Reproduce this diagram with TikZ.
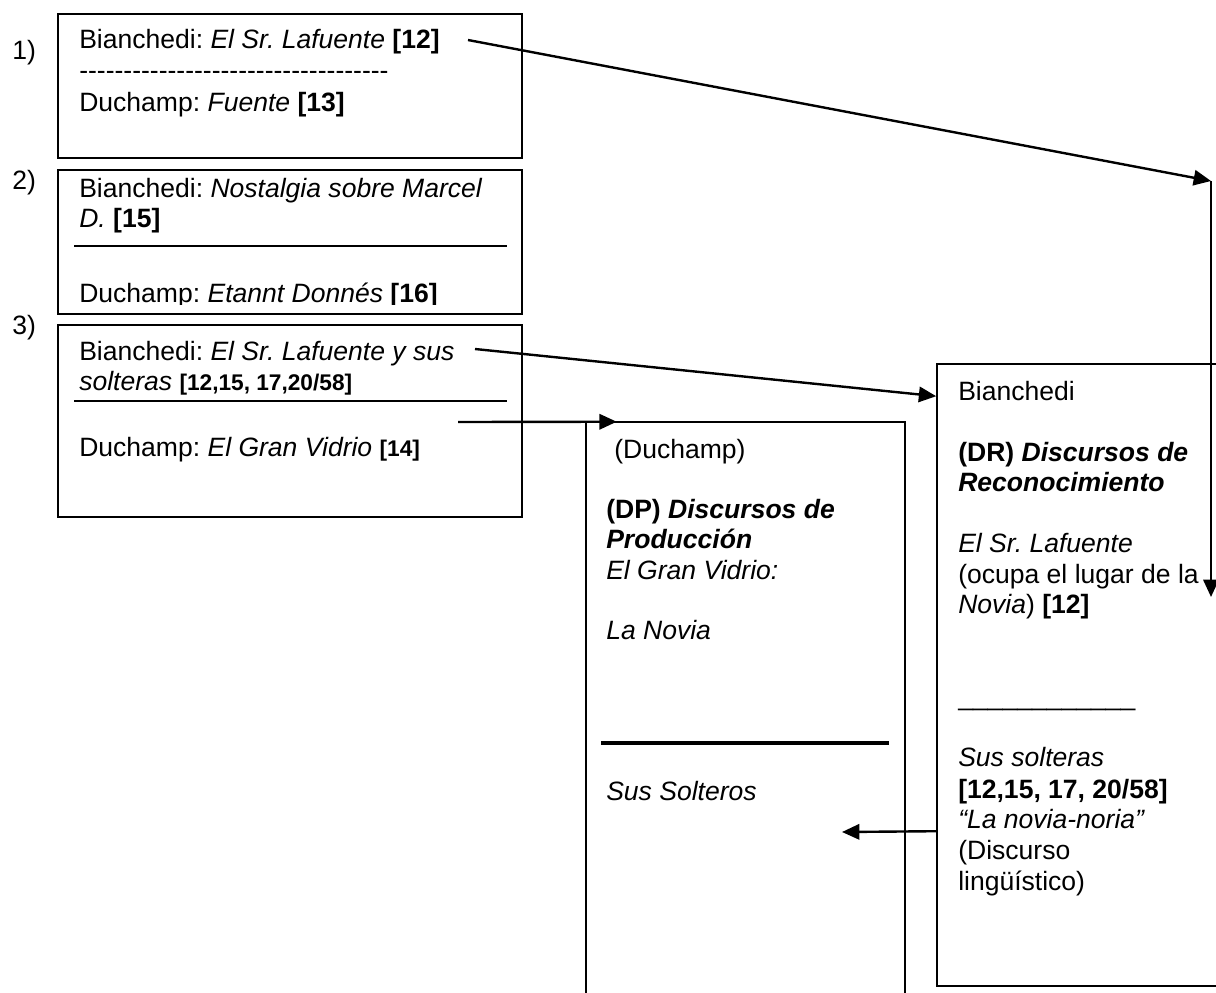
\documentclass[tikz,border=0pt]{standalone}
\usepackage{fontspec}
\setmainfont{Liberation Sans}
\usetikzlibrary{arrows.meta,fit}
\frenchspacing
\newcommand\fsn{\fontsize{19.9}{24}\selectfont}
\newcommand\fss{\fontsize{17}{20}\selectfont}
\tikzset{
  txt/.style={anchor=base west, inner sep=0pt, font=\fsn},
  boxframe/.style={draw, line width=1.2pt, inner sep=0pt},
  plainframe/.style={inner sep=0pt},
  arr/.style={line width=1.8pt, -{Triangle[length=13pt,width=11.5pt]}},
  rule/.style={line width=1pt},
  thickrule/.style={line width=3pt}
}
\begin{document}
\begin{tikzpicture}[x=0.75pt,y=-0.75pt]
\useasboundingbox (0,0) rectangle (1216,992);

% numbering
\node[txt] (n1) at (12,59) {1)};
\node[txt] (n2) at (12,189) {2)};
\node[txt] (n3) at (12,334) {3)};

% box 1
\node[boxframe, fit={(58,14) (522,158)}] (b1) {};
\node[txt] (t1a) at (79,48) {Bianchedi: \textit{El Sr. Lafuente} \textbf{[12]}};
\node[txt] (t1b) at (79,79) {-{}-{}-{}-{}-{}-{}-{}-{}-{}-{}-{}-{}-{}-{}-{}-{}-{}-{}-{}-{}-{}-{}-{}-{}-{}-{}-{}-{}-{}-{}-{}-{}-{}-{}-{}};
\node[txt] (t1c) at (79,111) {Duchamp: \textit{Fuente} \textbf{[13]}};

% box 2
\node[boxframe, fit={(58,170) (522,314)}] (b2) {};
\node[txt] (t2a) at (79,197) {Bianchedi: \textit{Nostalgia sobre Marcel}};
\node[txt] (t2b) at (79,227) {\textit{D.} \textbf{[15]}};
\draw[rule] (74,246) -- (507,246);
\begin{scope}
\clip (60,280) rectangle (520,304);
\node[txt] (t2c) at (79,302) {Duchamp: \textit{Etannt Donnés} \textbf{[16]}};
\end{scope}

% box 3
\node[boxframe, fit={(58,325) (522,517)}] (b3) {};
\node[txt] (t3a) at (79,360) {Bianchedi: \textit{El Sr. Lafuente y sus}};
\node[txt] (t3b) at (79,390) {\textit{solteras} {\fss\bfseries [12,15, 17,20/58]}};
\draw[rule] (74,401) -- (507,401);
\node[txt] (t3c) at (79,456) {Duchamp: \textit{El Gran Vidrio} {\fss\bfseries [14]}};

% DP box (open at bottom)
\node[plainframe, fit={(586,422) (905,1000)}] (dp) {};
\draw[line width=1.2pt] (dp.south west) |- (dp.north east) -- (dp.south east);
\node[txt] (d1) at (614,458) {(Duchamp)};
\node[txt] (d2) at (606,518) {\textbf{(DP) \textit{Discursos de}}};
\node[txt] (d3) at (606,548) {\textbf{\textit{Producción}}};
\node[txt] (d4) at (606,579) {\textit{El Gran Vidrio:}};
\node[txt] (d5) at (606,639) {\textit{La Novia}};
\draw[thickrule] (601,743) -- (889,743);
\node[txt] (d6) at (606,800) {\textit{Sus Solteros}};

% DR box
\node[boxframe, fit={(937,364) (1240,986)}] (dr) {};
\node[txt] (r1) at (958,400) {Bianchedi};
\node[txt] (r2) at (958,461) {\textbf{(DR) \textit{Discursos de}}};
\node[txt] (r3) at (958,491) {\textbf{\textit{Reconocimiento}}};
\node[txt] (r4) at (958,552) {\textit{El Sr. Lafuente}};
\node[txt] (r5) at (958,583) {(ocupa el lugar de la};
\node[txt] (r6) at (958,613) {\textit{Novia}) \textbf{[12]}};
\node[txt] (r7) at (958,705) {\_\_\_\_\_\_\_\_\_\_\_\_};
\node[txt] (r8) at (958,766) {\textit{Sus solteras}};
\node[txt] (r9) at (958,798) {\textbf{[12,15, 17, 20/58]}};
\node[txt] (r10) at (958,828) {\textit{“La novia-noria”}};
\node[txt] (r11) at (958,859) {(Discurso};
\node[txt] (r12) at (958,890) {lingüístico)};

% connectors
\coordinate (a1s) at (468,40);
\coordinate (c1) at (1211,181);
\coordinate (c1e) at (1211,597);
\draw[arr] (a1s) -- (c1);
\draw[arr] (c1) -- (c1e);

\coordinate (a2s) at (475,349);
\draw[arr] (a2s) -- ([yshift=-24.75pt]dr.north west);

\coordinate (a3s) at (458,422);
\draw[arr] (a3s) -- ([xshift=23.25pt]dp.north west);

\coordinate (a4e) at (842,832);
\draw[arr] ([yshift=-351pt]dr.north west) -- (a4e);
\end{tikzpicture}
\end{document}
